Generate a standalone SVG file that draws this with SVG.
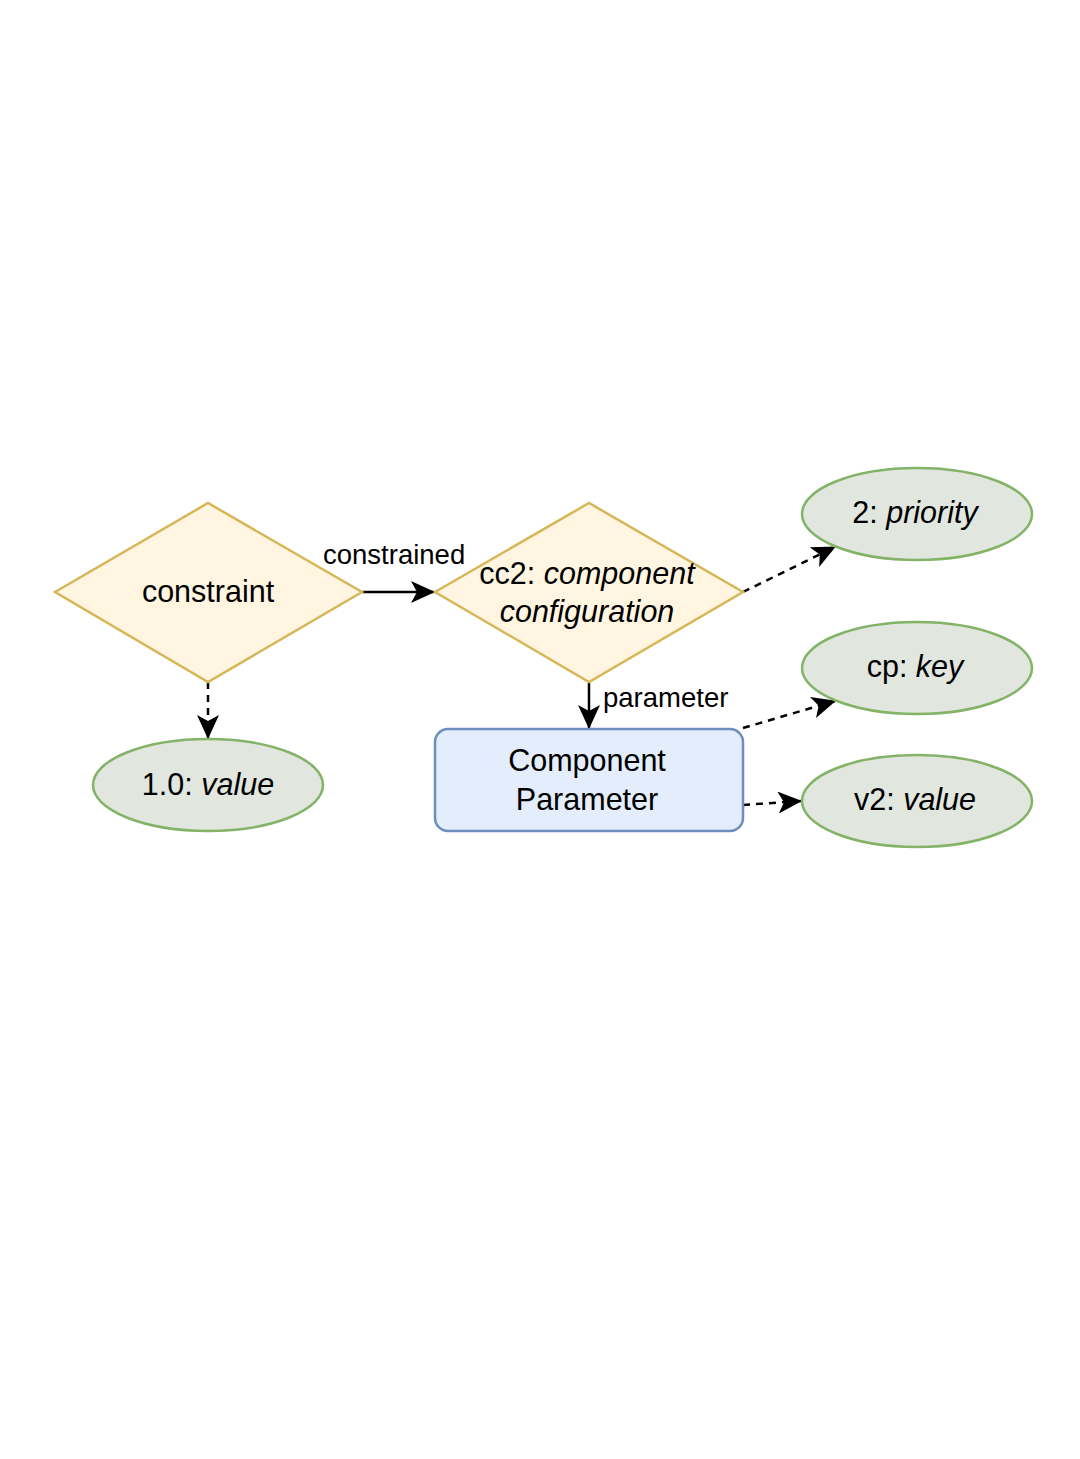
<svg xmlns="http://www.w3.org/2000/svg" width="1080" height="1459" viewBox="0 0 1080 1459">
<defs>
<style>
.dia{fill:#fff5e1;stroke:#d6b656;stroke-width:2.5}
.ell{fill:#e1e6df;stroke:#82b366;stroke-width:2.5}
.box{fill:#e3edfb;stroke:#6c8ebf;stroke-width:2.5}
.t{font-family:"Liberation Sans",Arial,sans-serif;font-size:30.5px;fill:#000;text-anchor:middle}
.lbl{font-family:"Liberation Sans",Arial,sans-serif;font-size:27.5px;fill:#000}
.c{fill:none;stroke:#000;stroke-width:2.5}
.d{stroke-dasharray:7 6}
</style>
<marker id="ah" viewBox="0 0 24 22" refX="23" refY="11" markerWidth="24" markerHeight="22" markerUnits="userSpaceOnUse" orient="auto">
<path d="M0,0 L24,11 L0,22 L6,11 Z" fill="#000"/>
</marker>
</defs>
<rect width="1080" height="1459" fill="#fff"/>
<g id="connectors">
<path class="c" d="M362,592 L434,592" marker-end="url(#ah)"/>
<path class="c d" d="M208,682 L208,738" marker-end="url(#ah)"/>
<path class="c d" d="M743,592 L835,547" marker-end="url(#ah)"/>
<path class="c" d="M589,682 L589,728" marker-end="url(#ah)"/>
<path class="c d" d="M743,728 L835,701" marker-end="url(#ah)"/>
<path class="c d" d="M743,805 L801,801" marker-end="url(#ah)"/>
<text class="lbl" x="323" y="564">constrained</text>
<text class="lbl" x="603" y="707">parameter</text>
</g>
<g id="constraint">
<polygon class="dia" points="55,592 208,503 362,592 208,682"/>
<text class="t" x="208" y="602">constraint</text>
</g>
<g id="cc2">
<polygon class="dia" points="435,592 589,503 743,592 589,682"/>
<text class="t" x="587" y="584">cc2: <tspan font-style="italic">component</tspan></text>
<text class="t" x="587" y="622" font-style="italic">configuration</text>
</g>
<g id="value1">
<ellipse class="ell" cx="208" cy="785" rx="115" ry="46"/>
<text class="t" x="208" y="795">1.0: <tspan font-style="italic">value</tspan></text>
</g>
<g id="priority">
<ellipse class="ell" cx="917" cy="514" rx="115" ry="46"/>
<text class="t" x="915" y="523">2: <tspan font-style="italic">priority</tspan></text>
</g>
<g id="key">
<ellipse class="ell" cx="917" cy="668" rx="115" ry="46"/>
<text class="t" x="915" y="677">cp: <tspan font-style="italic">key</tspan></text>
</g>
<g id="value2">
<ellipse class="ell" cx="917" cy="801" rx="115" ry="46"/>
<text class="t" x="915" y="810">v2: <tspan font-style="italic">value</tspan></text>
</g>
<g id="param">
<rect class="box" x="435" y="729" width="308" height="102" rx="13"/>
<text class="t" x="587" y="771">Component</text>
<text class="t" x="587" y="810">Parameter</text>
</g>
</svg>
